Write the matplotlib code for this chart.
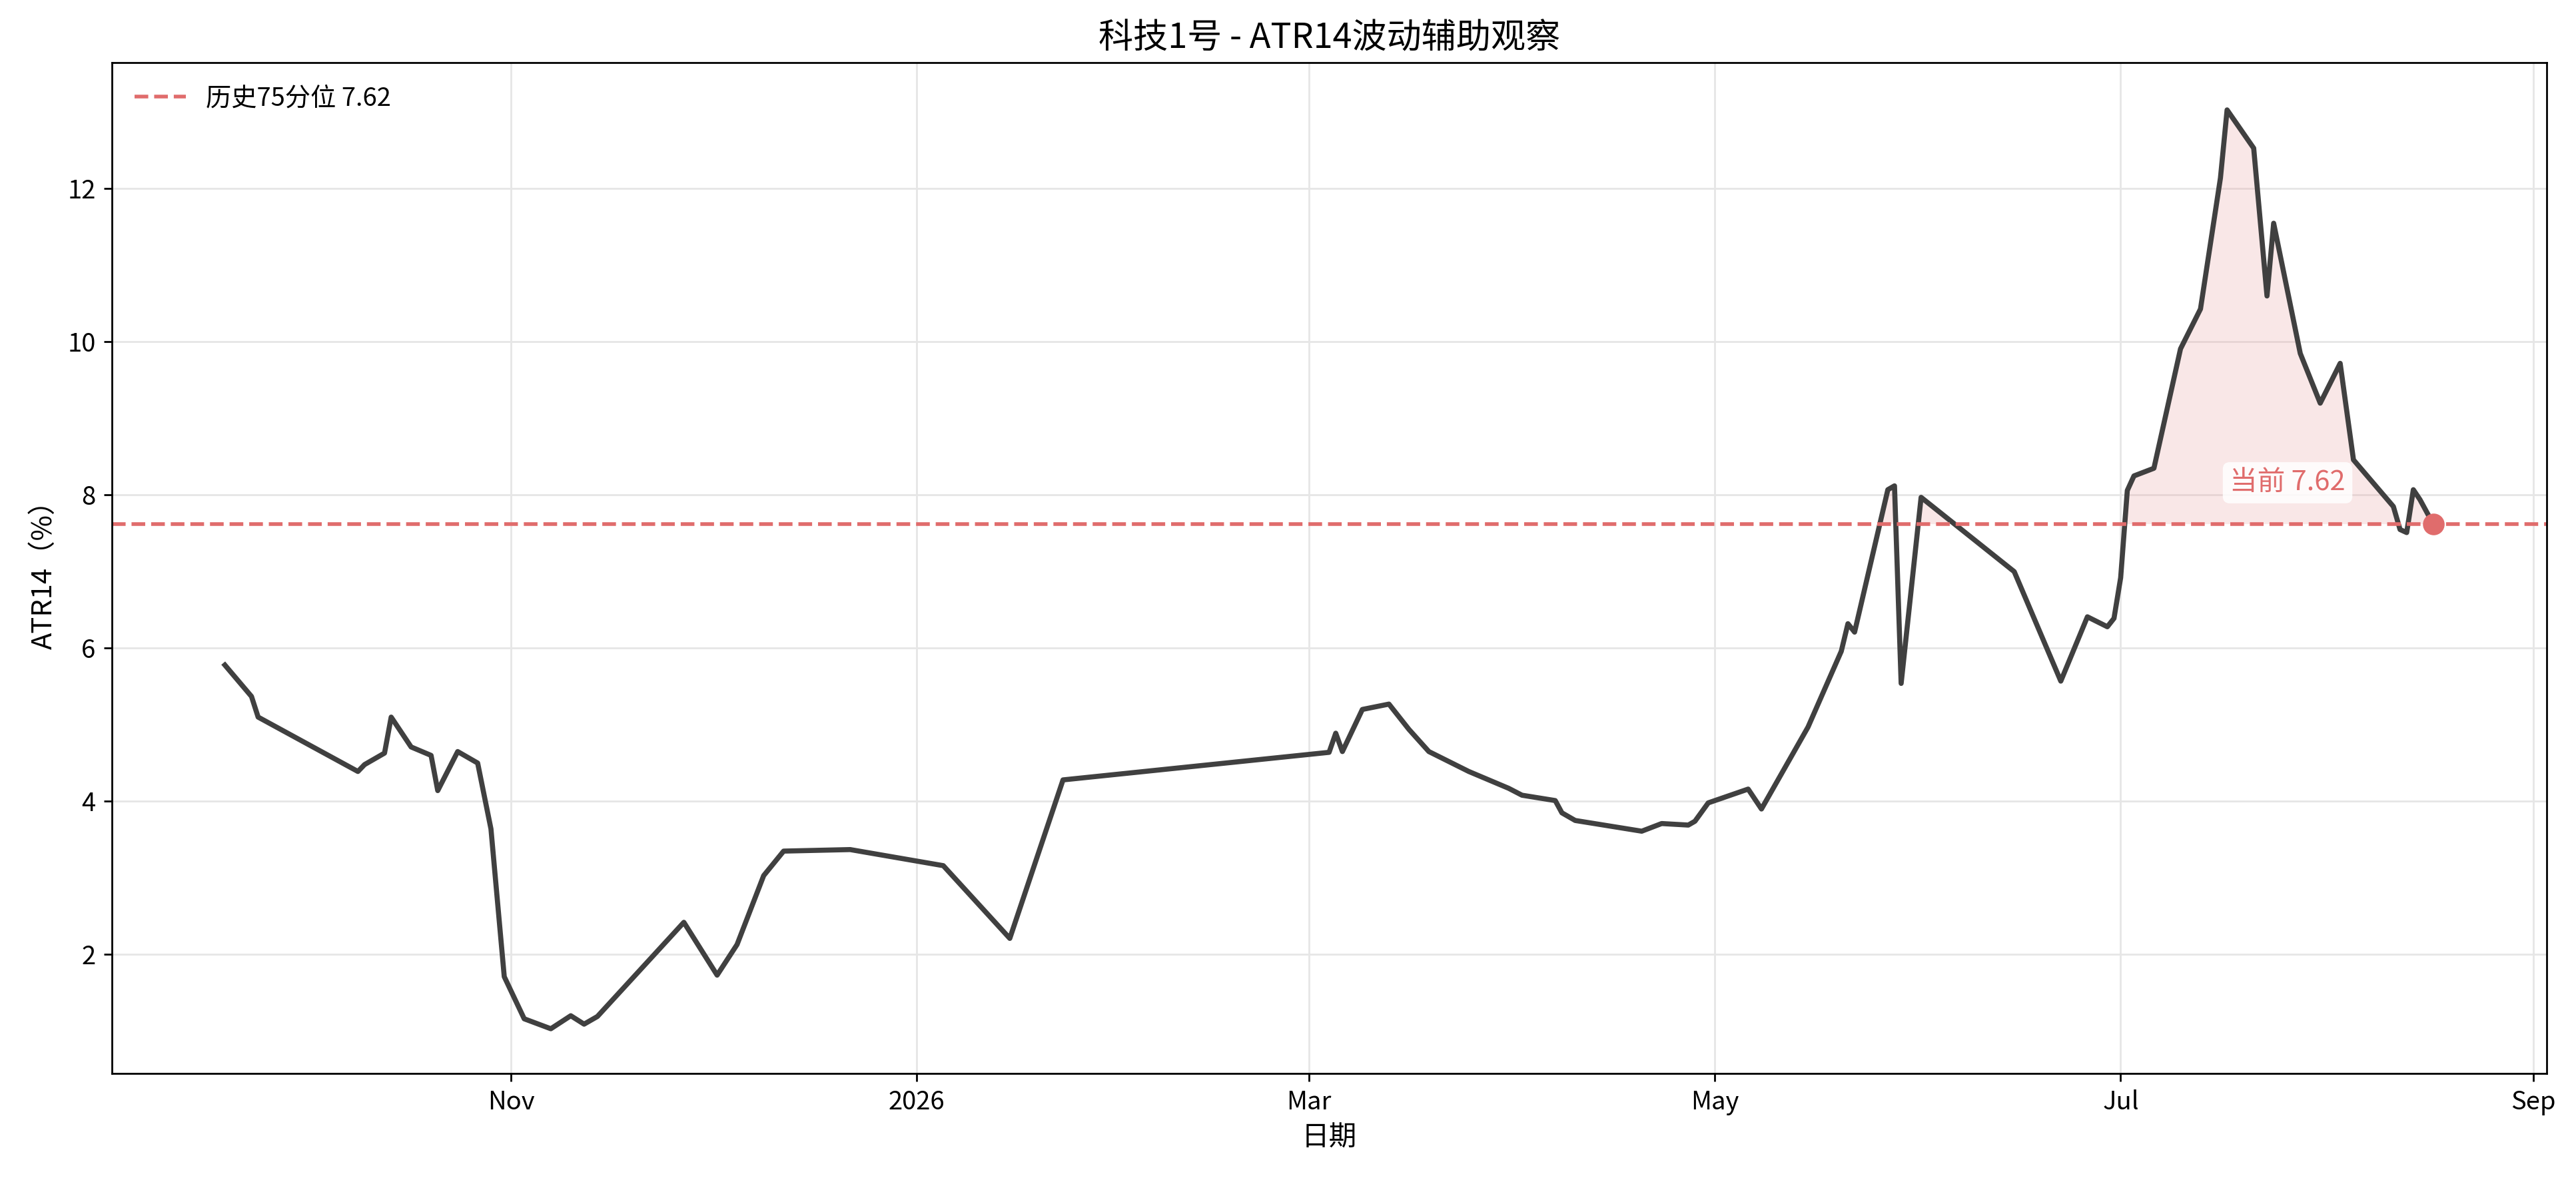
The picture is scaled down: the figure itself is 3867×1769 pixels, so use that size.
import numpy as np
import pandas as pd
import matplotlib
matplotlib.use("Agg")
import matplotlib.pyplot as plt
import matplotlib.dates as mdates

plt.rcParams['font.family'] = ['Noto Sans CJK SC', 'DejaVu Sans']
plt.rcParams['axes.unicode_minus'] = False

# days offset from 2025-11-01
day_offsets = [-43, -39, -38, -23, -22, -19, -18, -15, -12, -11, -8, -5, -3, -1, 2, 6, 9, 11, 13,
               26, 31, 34, 38, 41, 51, 65, 75, 83, 123, 124, 125, 128, 132, 135, 138, 144, 150,
               152, 157, 158, 160, 170, 173, 177, 178, 180, 186, 188, 195, 200, 201, 202, 207,
               208, 209, 212, 226, 233, 237, 240, 241, 242, 243, 244, 247, 251, 254, 257, 258,
               262, 264, 265, 269, 272, 275, 277, 283, 284, 285, 286, 287, 289]
atr_values = [5.78, 5.37, 5.10, 4.39, 4.48, 4.63, 5.10, 4.71, 4.60, 4.14, 4.65, 4.50, 3.64, 1.71,
              1.16, 1.03, 1.20, 1.09, 1.19, 2.42, 1.73, 2.13, 3.03, 3.35, 3.37, 3.16, 2.21, 4.28,
              4.64, 4.89, 4.65, 5.20, 5.27, 4.94, 4.65, 4.39, 4.17, 4.08, 4.01, 3.85, 3.75, 3.61,
              3.71, 3.69, 3.74, 3.98, 4.16, 3.90, 4.97, 5.96, 6.32, 6.21, 8.07, 8.12, 5.54, 7.97,
              7.00, 5.57, 6.41, 6.28, 6.39, 6.92, 8.06, 8.25, 8.35, 9.91, 10.43, 12.14, 13.03,
              12.53, 10.60, 11.55, 9.85, 9.20, 9.72, 8.46, 7.85, 7.55, 7.51, 8.07, 7.94, 7.62]
p75 = 7.62
current = 7.62

dates = pd.Timestamp("2025-11-01") + pd.to_timedelta(day_offsets, unit="D")
vals = np.array(atr_values)

fig, ax = plt.subplots(figsize=(15.468, 7.076), dpi=250)
fig.subplots_adjust(left=0.0434, right=0.9885, top=0.947, bottom=0.089)

red = "#E06C6C"
ax.fill_between(dates, vals, p75, where=vals > p75, interpolate=True,
                color="#E8A0A0", alpha=0.25, linewidth=0)
ax.plot(dates, vals, color="#404040", linewidth=2.2)
ax.axhline(p75, color=red, linestyle="--", linewidth=1.6, label=f"历史75分位 {p75:.2f}")
ax.scatter([dates[-1]], [current], color=red, s=70, zorder=5)
ax.annotate(f"当前 {current:.2f}", xy=(dates[-1], current), xytext=(-38, 12),
            textcoords="offset points", ha="right", va="bottom", color=red, fontsize=12,
            bbox=dict(boxstyle="round,pad=0.25", fc="white", ec="none", alpha=0.85))

ax.set_xlim(pd.Timestamp("2025-09-02"), pd.Timestamp("2026-09-03"))
ax.set_ylim(0.45, 13.65)
ax.xaxis.set_major_locator(mdates.MonthLocator(bymonth=[1, 3, 5, 7, 9, 11]))
ax.xaxis.set_major_formatter(plt.FuncFormatter(
    lambda x, p: str(mdates.num2date(x).year) if mdates.num2date(x).month == 1
    else mdates.num2date(x).strftime("%b")))
ax.set_yticks([2, 4, 6, 8, 10, 12])
ax.tick_params(labelsize=11)
ax.grid(True, color="#e6e6e6", linewidth=0.8)
ax.set_axisbelow(True)
ax.set_title("科技1号 - ATR14波动辅助观察", fontsize=15)
ax.set_xlabel("日期", fontsize=12)
ax.set_ylabel("ATR14（%）", fontsize=12)
ax.legend(loc="upper left", frameon=False, fontsize=11)

fig.savefig("out.png", dpi=250)
